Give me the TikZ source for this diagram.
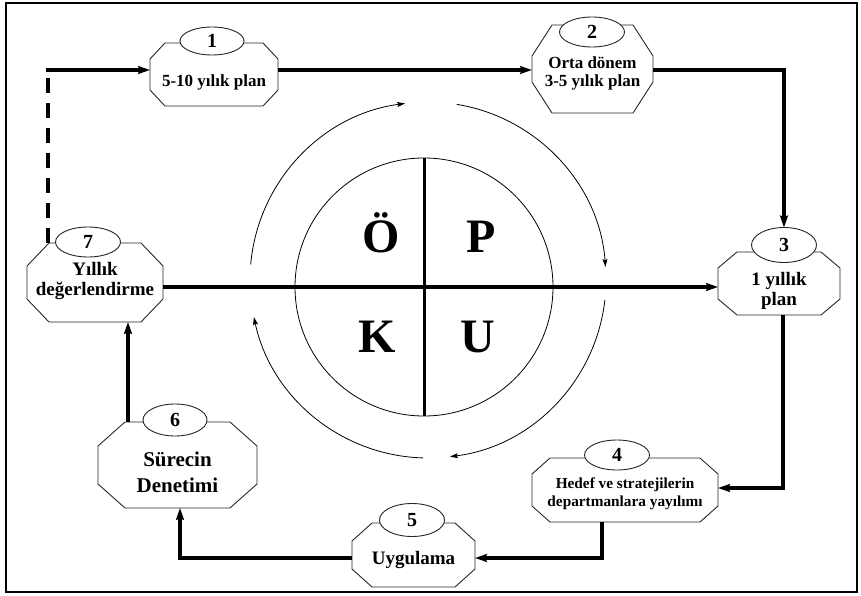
\documentclass[tikz,border=0pt]{standalone}
\usepackage{fontspec}
\setmainfont{Liberation Serif}
\usetikzlibrary{shapes.geometric,arrows.meta}
\tikzset{
  boxline/.style={draw=black!85, line width=0.9pt},
  numell/.style={ellipse, draw=black!85, line width=0.9pt, fill=white, inner sep=0pt, outer sep=0pt,
    font=\fontsize{20}{22}\selectfont\bfseries},
  conn/.style={line width=3.2pt, -{Stealth[length=12pt,width=8pt,inset=2pt]}},
  plainconn/.style={line width=3pt},
  dashconn/.style={line width=3.2pt, dash pattern=on 15pt off 10pt},
  arcline/.style={line width=0.8pt, -{Stealth[length=8pt,width=5pt,inset=1.5pt]}},
  txt/.style={anchor=base, inner sep=0pt, font=\bfseries},
  bigletter/.style={anchor=base, inner sep=0pt, font=\fontsize{48}{50}\selectfont\bfseries}
}
\newcommand{\octbox}[7]{%
  \node[minimum width=#4pt, minimum height=#5pt, inner sep=0pt, outer sep=0pt] (#1) at (#2,#3) {};
  \draw[boxline] ([xshift=#6pt]#1.north west) -- ([xshift=-#6pt]#1.north east)
    -- ([yshift=-#7pt]#1.north east) -- ([yshift=#7pt]#1.south east)
    -- ([xshift=-#6pt]#1.south east) -- ([xshift=#6pt]#1.south west)
    -- ([yshift=#7pt]#1.south west) -- ([yshift=-#7pt]#1.north west) -- cycle;
}
\begin{document}
\begin{tikzpicture}[x=1pt,y=-1pt]
\useasboundingbox (0,0) rectangle (861,596);
\draw[line width=2pt] (6,3) rectangle (857,592);

% boxes
\octbox{n1}{214}{74.5}{128}{63}{15}{16}
\octbox{n2}{592.5}{69}{121}{88}{20}{31}
\octbox{n3}{779}{283.5}{122}{63}{19}{16}
\octbox{n4}{625}{490}{186}{64}{18}{16}
\octbox{n5}{413.5}{555}{123}{64}{20}{18}
\octbox{n6}{177.5}{465}{159}{86}{27}{24}
\octbox{n7}{95}{282.5}{136}{79}{22}{23}

% number ellipses
\node[numell, minimum width=64pt, minimum height=28pt] (e1) at (212,41) {1};
\node[numell, minimum width=65pt, minimum height=30pt] (e2) at (592,32) {2};
\node[numell, minimum width=65pt, minimum height=35pt] (e3) at (784,245) {3};
\node[numell, minimum width=65pt, minimum height=30pt] (e4) at (617,455) {4};
\node[numell, minimum width=65pt, minimum height=33pt] (e5) at (412,520) {5};
\node[numell, minimum width=64pt, minimum height=32pt] (e6) at (175,420) {6};
\node[numell, minimum width=65pt, minimum height=30pt] (e7) at (88,242) {7};

% box texts
\node[txt, font=\fontsize{17}{19}\selectfont\bfseries] (t1) at (214,87) {5-10 yılık plan};
\node[txt, font=\fontsize{17}{19}\selectfont\bfseries] (t2a) at (592.5,69) {Orta dönem};
\node[txt, font=\fontsize{17}{19}\selectfont\bfseries] (t2b) at (592.5,87) {3-5 yılık plan};
\node[txt, font=\fontsize{19}{21}\selectfont\bfseries] (t3a) at (779,285) {1 yıllık};
\node[txt, font=\fontsize{19}{21}\selectfont\bfseries] (t3b) at (779,305) {plan};
\node[txt, font=\fontsize{15.3}{17}\selectfont\bfseries] (t4a) at (625,488) {Hedef ve stratejilerin};
\node[txt, font=\fontsize{15.3}{17}\selectfont\bfseries] (t4b) at (625,506) {departmanlara yayılımı};
\node[txt, font=\fontsize{19}{21}\selectfont\bfseries] (t5) at (413.5,564) {Uygulama};
\node[txt, font=\fontsize{21}{23}\selectfont\bfseries] (t6a) at (177.5,466) {Sürecin};
\node[txt, font=\fontsize{21}{23}\selectfont\bfseries] (t6b) at (177.5,492) {Denetimi};
\node[txt, font=\fontsize{19}{21}\selectfont\bfseries] (t7a) at (95,275) {Yıllık};
\node[txt, font=\fontsize{19}{21}\selectfont\bfseries] (t7b) at (95,295) {değerlendirme};

% central circle
\node[circle, draw, line width=0.8pt, minimum size=258pt, inner sep=0pt, outer sep=0pt] (cir) at (424,287) {};
\draw[plainconn] (cir.north) -- (cir.south);
\node[bigletter] (lo) at (381,252) {Ö};
\node[bigletter] (lp) at (481,252) {P};
\node[bigletter] (lk) at (377,352) {K};
\node[bigletter] (lu) at (478,352) {U};

% outer circular arrows
\coordinate (oc) at (428,280);
\draw[arcline] ([shift={(-175:178)}]oc) arc[start angle=-175, end angle=-97.4, radius=178];
\draw[arcline] ([shift={(-80.7:178)}]oc) arc[start angle=-80.7, end angle=-4.2, radius=178];
\draw[arcline] ([shift={(6.4:178)}]oc) arc[start angle=6.4, end angle=82.9, radius=178];
\draw[arcline] ([shift={(91.6:178)}]oc) arc[start angle=91.6, end angle=168, radius=178];

% connectors
\coordinate (tl) at (48,70);
\coordinate (tr) at (784,70);
\coordinate (mid) at (424,287);
\coordinate (c34) at (783,488);
\coordinate (c45) at (602,558);
\coordinate (c56) at (180,558);
\coordinate (c67) at (128,400);

\draw[dashconn] (tl |- n7.north) -- (tl);
\draw[conn] ([xshift=-1.6pt]tl) -- (tl -| n1.west);
\draw[conn] (tl -| n1.east) -- (tl -| n2.west);
\draw[conn] (tr -| n2.east) -- (tr) -- (e3.north);
\draw[conn] (mid -| n7.east) -- (mid -| n3.west);
\draw[conn] (c34 |- n3.south) -- (c34) -- (c34 -| n4.east);
\draw[conn] (c45 |- n4.south) -- (c45) -- (c45 -| n5.east);
\draw[conn] (c56 -| n5.west) -- (c56) -- (c56 |- n6.south);
\draw[conn] (c67 |- n6.north) -- (c67 |- n7.south);
\end{tikzpicture}
\end{document}
